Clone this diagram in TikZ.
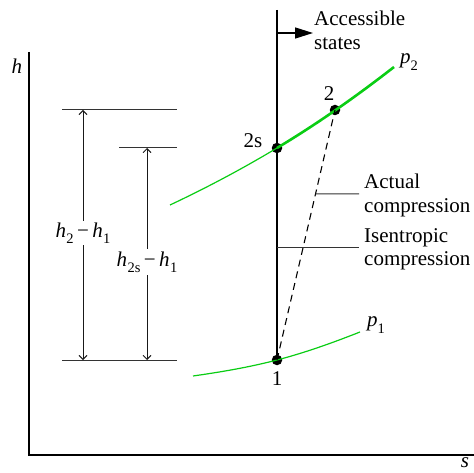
\documentclass[tikz,border=0pt]{standalone}
\usepackage{fontspec}
\setmainfont{Liberation Serif}
\usetikzlibrary{arrows.meta,calc}
\definecolor{curvecol}{RGB}{10,205,20}
\newcommand{\hsub}[1]{\textit{h}\kern0.3pt\raisebox{-0.3em}{\fontsize{14.5}{14.5}\selectfont #1}}
\begin{document}
\begin{tikzpicture}[x=1pt,y=-1pt,
  lbl/.style={font=\fontsize{21}{23.5}\selectfont, inner sep=0pt},
  ital/.style={font=\fontsize{21}{23.5}\selectfont\itshape, inner sep=0pt},
  dot/.style={circle,fill=black,inner sep=0pt,minimum size=10.5pt},
  axis/.style={line width=1.4pt},
  leader/.style={line width=1pt, black!80},
  dimarrow/.style={line width=0.9pt, black!90, {Straight Barb[length=4pt,width=8pt]}-{Straight Barb[length=4pt,width=8pt]}},
  thincurve/.style={line width=1.2pt, curvecol},
  thickcurve/.style={line width=2.6pt, curvecol},
  dashline/.style={line width=1.1pt, dash pattern=on 7pt off 5pt},
]
\useasboundingbox (0,0) rectangle (474,473);

% axes
\coordinate (htop) at (29,52);
\coordinate (o) at (29,455);
\coordinate (send) at (474,455);
\draw[axis] (htop) -- (o) -- (send);
\node[ital] (hl) at (17,66) {h};
\node[ital] (sl) at (465,463) {s};

% states
\node[dot] (n1) at (277,360) {};
\node[dot] (n2s) at (277,148) {};
\node[dot] (n2) at (335,110) {};

% isentrope line
\coordinate (vtop) at (277,10);
\draw[axis] (vtop) -- (n1.center);

% accessible states arrow
\coordinate (arrS) at (277,33);
\coordinate (arrE) at (313,33);
\draw[line width=1.4pt,-{Triangle[length=18pt,width=11pt]}] (arrS) -- (arrE);
\node[lbl,align=left,anchor=north west] (acc) at (314,11) {Accessible\\states};

% p2 curve
\coordinate (p2start) at (170,205);
\coordinate (p2end) at (394,67);
\draw[thincurve] (p2start) .. controls (205.7,188.2) and (241.3,169.4) .. (n2s.center);
\draw[thickcurve] (n2s.center) .. controls (316,124.6) and (355,97.4) .. (p2end);
\node[ital] (p2l) at (409,62) {p\raisebox{-0.3em}{\fontsize{14.5}{14.5}\selectfont\upshape 2}};

% p1 curve
\coordinate (p1start) at (193,376);
\coordinate (p1end) at (360,332);
\draw[thincurve] (p1start) .. controls (221,372) and (249,367.3) .. (n1.center)
  .. controls (305,352.7) and (332,343) .. (p1end);
\node[ital] (p1l) at (376,325) {p\raisebox{-0.3em}{\fontsize{14.5}{14.5}\selectfont\upshape 1}};

% dashed actual compression
\draw[dashline] (n1.center) -- (n2.center);

% state labels
\node[lbl] (l1) at (277,379) {1};
\node[lbl] (l2) at (329,94) {2};
\node[lbl] (l2s) at (253,141) {2s};

% leaders
\coordinate (la1) at ($(n1.center)!0.664!(n2.center)$);
\coordinate (la2) at (359,194);
\draw[leader] (la1) -- (la2);
\node[lbl,align=left,anchor=north west] (act) at (364,174) {Actual\\compression};
\coordinate (li1) at (277,248);
\coordinate (li2) at (359,248);
\draw[leader] (li1) -- (li2);
\node[lbl,align=left,anchor=north west] (ise) at (364,228) {Isentropic\\compression};

% dimension reference lines
\coordinate (t1a) at (62,110);
\coordinate (t1b) at (177,110);
\coordinate (t2a) at (119,148);
\coordinate (t2b) at (177,148);
\coordinate (ba) at (62,360);
\coordinate (bb) at (177,360);
\draw[leader] (t1a) -- (t1b);
\draw[leader] (t2a) -- (t2b);
\draw[leader] (ba) -- (bb);

% dimension arrows
\coordinate (d1t) at (83,110);
\coordinate (d1b) at (83,360);
\coordinate (d2t) at (147,148);
\coordinate (d2b) at (147,360);
\draw[dimarrow] (d1t) -- (d1b);
\draw[dimarrow] (d2t) -- (d2b);
\node[lbl,fill=white,inner sep=2pt] (dl1) at (83,233) {\hsub{2}\,−\,\hsub{1}};
\node[lbl,fill=white,inner sep=2pt] (dl2) at (147,262) {\hsub{2s}\,−\,\hsub{1}};
\end{tikzpicture}
\end{document}
